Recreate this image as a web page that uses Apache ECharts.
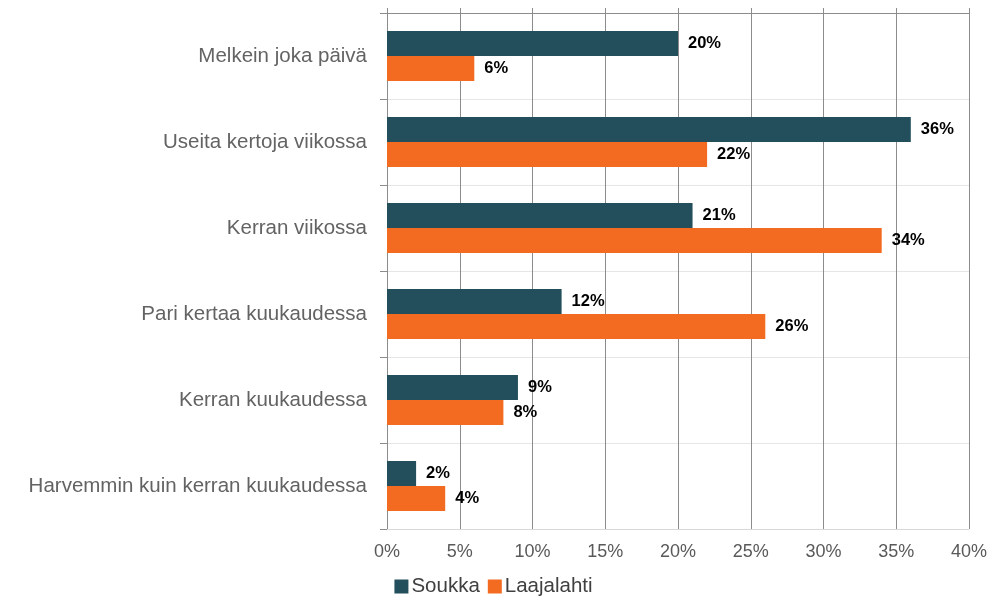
<!DOCTYPE html>
<html lang="fi">
<head>
    <meta charset="UTF-8">
    <script src="https://cdn.jsdelivr.net/npm/echarts@6/dist/echarts.min.js"></script>
    <style>
        html, body { margin: 0; padding: 0; background: #fff; }
        #main { width: 987px; height: 599px; }
    </style>
</head>
<body>
<div id="main"></div>
<script>
    var categories = ['Melkein joka päivä', 'Useita kertoja viikossa', 'Kerran viikossa',
        'Pari kertaa kuukaudessa', 'Kerran kuukaudessa', 'Harvemmin kuin kerran kuukaudessa'];
    var soukka = [20, 36, 21, 12, 9, 2];
    var laajalahti = [6, 22, 34, 26, 8, 4];
    var seriesNames = ['Soukka', 'Laajalahti'];

    var chart = echarts.init(document.getElementById('main'));
    var fontName = '"Liberation Sans", Arial, sans-serif';
    var label = {
        show: true,
        position: 'right',
        distance: 10,
        formatter: '{c}%',
        color: '#000',
        fontWeight: 'bold',
        fontSize: 16.5,
        fontFamily: fontName
    };
    chart.setOption({
        animation: false,
        textStyle: { fontFamily: fontName },
        grid: { left: 387, right: 18, top: 13, bottom: 70, containLabel: false, outerBoundsMode: 'none' },
        legend: {
            data: seriesNames,
            top: 576,
            left: 'center',
            padding: 0,
            itemWidth: 14,
            itemHeight: 14,
            itemGap: 8,
            icon: 'rect',
            textStyle: { fontSize: 20.5, color: '#404040', fontFamily: fontName, padding: [0, 0, 0, -2] }
        },
        xAxis: [{
            type: 'value',
            min: 0,
            max: 40,
            interval: 5,
            position: 'bottom',
            axisLine: { show: true, lineStyle: { color: '#d9d9d9' } },
            axisTick: { show: false },
            axisLabel: { formatter: '{value}%', color: '#595959', fontSize: 18, margin: 14 },
            splitLine: { show: true, lineStyle: { color: '#8c8c8c', width: 1 } }
        }, {
            type: 'value',
            min: 0,
            max: 40,
            interval: 5,
            position: 'top',
            axisLine: { show: true, lineStyle: { color: '#8c8c8c' } },
            axisTick: { show: true, length: 5, lineStyle: { color: '#8c8c8c' } },
            axisLabel: { show: false },
            splitLine: { show: false }
        }],
        yAxis: {
            type: 'category',
            data: categories,
            inverse: true,
            axisLine: { show: true, lineStyle: { color: '#8c8c8c' } },
            axisTick: { show: true, length: 7, lineStyle: { color: '#8c8c8c' } },
            axisLabel: { color: '#636363', fontSize: 20.5, margin: 20 },
            splitLine: { show: true, lineStyle: { color: '#e6e6e6' } }
        },
        series: [{
            name: seriesNames[0],
            type: 'bar',
            data: soukka,
            itemStyle: { color: '#234e5c' },
            barWidth: 25,
            barGap: '0%',
            label: label
        }, {
            name: seriesNames[1],
            type: 'bar',
            data: laajalahti,
            itemStyle: { color: '#f26b21' },
            barWidth: 25,
            barGap: '0%',
            label: label
        }]
    });
</script>
</body>
</html>
